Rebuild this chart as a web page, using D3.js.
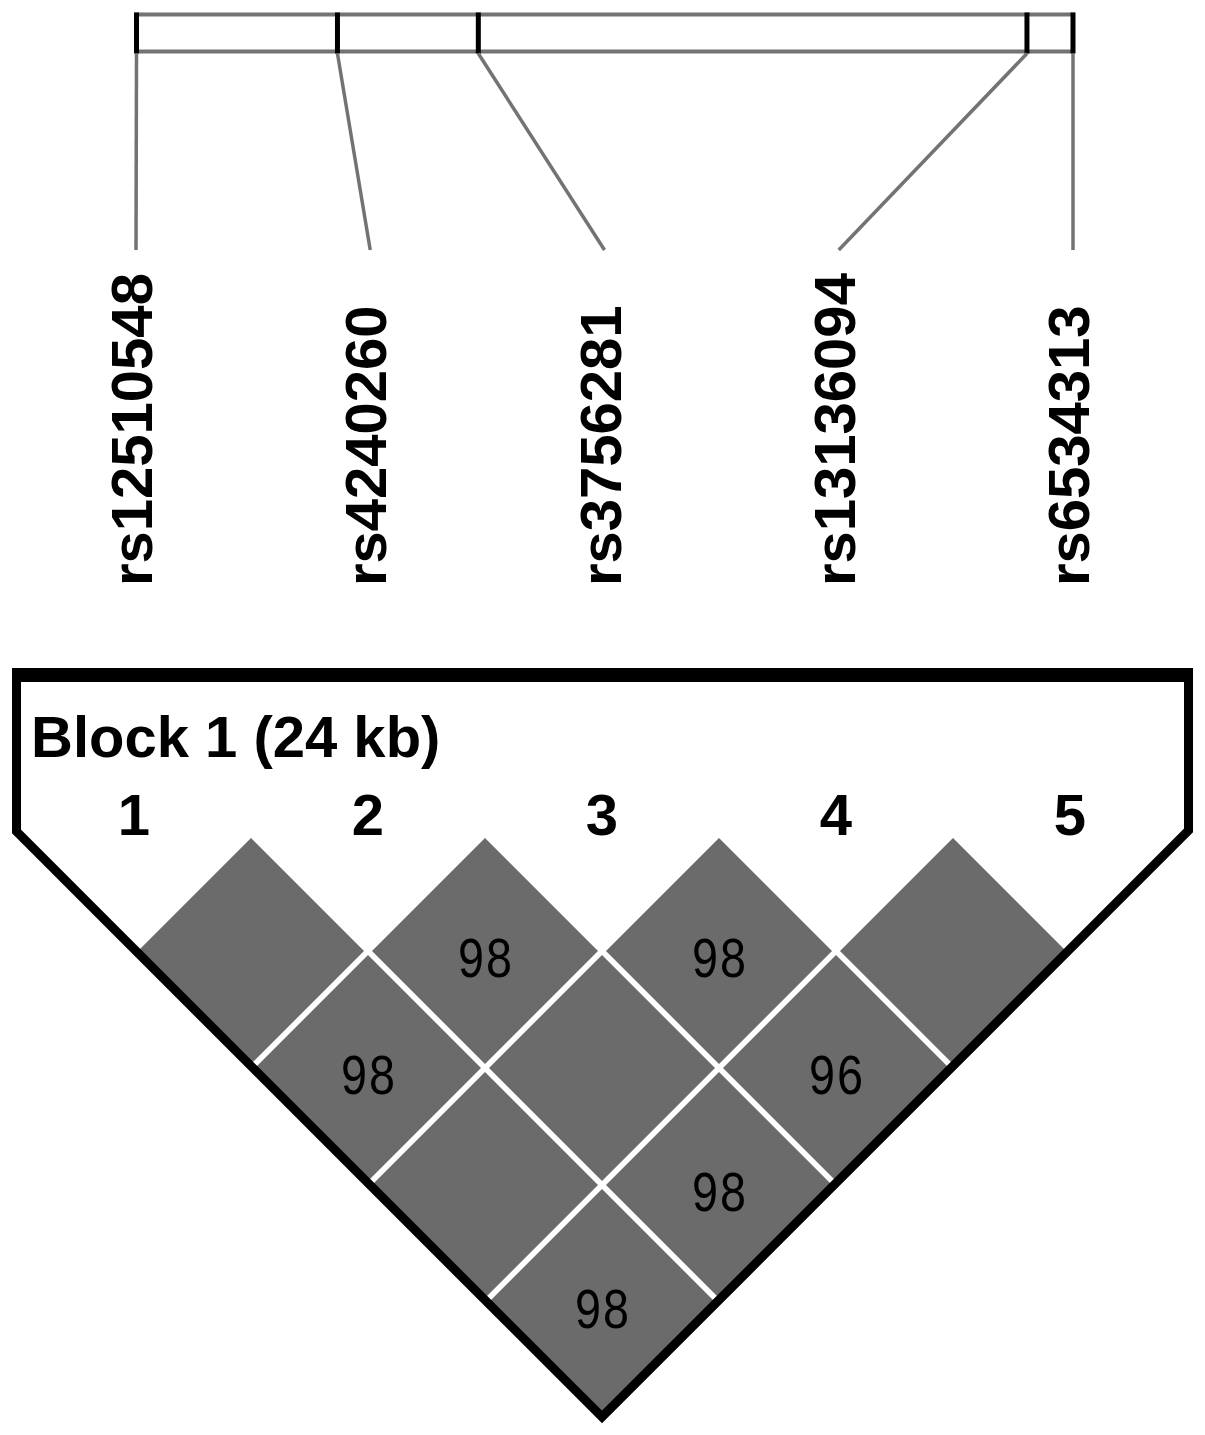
<!DOCTYPE html>
<html>
<head>
<meta charset="utf-8">
<script src="https://cdn.jsdelivr.net/npm/d3@7"></script>
<style>
  body { margin: 0; background: #fff; }
  svg { display: block; }
</style>
</head>
<body>
<div id="chart"></div>
<script>
// SNPs in the block, positions relative to first SNP (kb)
const snpNames = ['rs12510548', 'rs4240260', 'rs3756281', 'rs13136094', 'rs6534313'];
const snpPosKb = [0, 5.15, 8.76, 22.82, 24.0];
const blockLength = 24;
const blockTitle = 'Block 1 (24 kb)';

// D' x 100, one array per distance between markers (100 = not printed)
const dPrimeDist1 = [100, 98, 98, 100];
const dPrimeDist2 = [98, 100, 96];
const dPrimeDist3 = [100, 98];
const dPrimeDist4 = [98];

const width = 1205;
const height = 1435;
const grey = '#737373';
const cellFill = '#6b6b6b';

const svg = d3.select('#chart')
  .append('svg')
  .attr('width', width)
  .attr('height', height)
  .attr('viewBox', `0 0 ${width} ${height}`);

svg.append('rect').attr('width', width).attr('height', height).attr('fill', '#fff');

// ---- physical map at the top ----
const posScale = d3.scaleLinear().domain([0, blockLength]).range([136.5, 1073]);
const labelScale = d3.scalePoint().domain(d3.range(snpNames.length)).range([136, 1073]);

const mapTop = 14.5;
const mapBottom = 51.5;

svg.append('rect')
  .attr('x', posScale(0))
  .attr('y', mapTop)
  .attr('width', posScale(blockLength) - posScale(0))
  .attr('height', mapBottom - mapTop)
  .attr('fill', 'none')
  .attr('stroke', grey)
  .attr('stroke-width', 4);

svg.append('g')
  .selectAll('line')
  .data(snpPosKb)
  .join('line')
  .attr('x1', (d) => posScale(d))
  .attr('x2', (d) => posScale(d))
  .attr('y1', mapTop - 2)
  .attr('y2', mapBottom + 2)
  .attr('stroke', '#000')
  .attr('stroke-width', 5);

svg.append('g')
  .selectAll('line')
  .data(snpPosKb)
  .join('line')
  .attr('x1', (d) => posScale(d))
  .attr('y1', mapBottom + 2)
  .attr('x2', (_d, i) => labelScale(i))
  .attr('y2', 250)
  .attr('stroke', grey)
  .attr('stroke-width', 3.5);

svg.append('g')
  .selectAll('text')
  .data(snpNames)
  .join('text')
  .attr('transform', (_d, i) => `translate(${labelScale(i) + 16}, 586) rotate(-90)`)
  .attr('text-anchor', 'start')
  .style('font-family', '"Liberation Sans", Arial, sans-serif')
  .style('font-weight', 'bold')
  .style('font-size', '58px')
  .text((d) => d);

// ---- LD block ----
const blockScale = d3.scalePoint().domain(d3.range(snpNames.length)).range([134, 1070]);
const step = (blockScale(1) - blockScale(0)) / 2;
const rowY = d3.scaleLinear().domain([1, 4]).range([951, 951 + 3 * step]);

const dPrimeRows = [dPrimeDist1, dPrimeDist2, dPrimeDist3, dPrimeDist4];
const cells = [];
dPrimeRows.forEach((row, r) => {
  const dist = r + 1;
  row.forEach((value, i) => {
    cells.push({
      i: i,
      j: i + dist,
      value: value,
      cx: (blockScale(i) + blockScale(i + dist)) / 2,
      cy: rowY(dist),
    });
  });
});

const half = step - 4;

svg.append('g')
  .selectAll('path')
  .data(cells)
  .join('path')
  .attr('d', (c) => `M${c.cx},${c.cy - half}L${c.cx + half},${c.cy}L${c.cx},${c.cy + half}L${c.cx - half},${c.cy}Z`)
  .attr('fill', cellFill);

svg.append('g')
  .selectAll('text')
  .data(cells.filter((c) => c.value < 100))
  .join('text')
  .attr('x', (c) => c.cx)
  .attr('y', (c) => c.cy + 26)
  .attr('text-anchor', 'middle')
  .attr('textLength', 56)
  .attr('lengthAdjust', 'spacingAndGlyphs')
  .style('font-family', '"Liberation Mono", "DejaVu Sans Mono", monospace')
  .style('font-size', '57px')
  .attr('fill', '#000')
  .text((c) => c.value);

// outline of the block
const apexX = (blockScale(0) + blockScale(snpNames.length - 1)) / 2;
const apexY = 1417;
const leftX = 16.5;
const rightX = 1188.5;
const frameTop = 675;

svg.append('path')
  .attr('d', `M${leftX},${frameTop}L${rightX},${frameTop}L${rightX},${apexY - (rightX - apexX)}` +
    `L${apexX},${apexY}L${leftX},${apexY - (apexX - leftX)}Z`)
  .attr('fill', 'none')
  .attr('stroke', '#000')
  .attr('stroke-width', 9)
  .attr('stroke-linejoin', 'miter');

svg.append('rect')
  .attr('x', leftX - 4.5)
  .attr('y', 668)
  .attr('width', rightX - leftX + 9)
  .attr('height', 14)
  .attr('fill', '#000');

svg.append('text')
  .attr('x', 31)
  .attr('y', 757)
  .style('font-family', '"Liberation Sans", Arial, sans-serif')
  .style('font-weight', 'bold')
  .style('font-size', '58px')
  .text(blockTitle);

svg.append('g')
  .selectAll('text')
  .data(d3.range(snpNames.length))
  .join('text')
  .attr('x', (i) => blockScale(i))
  .attr('y', 835)
  .attr('text-anchor', 'middle')
  .style('font-family', '"Liberation Sans", Arial, sans-serif')
  .style('font-weight', 'bold')
  .style('font-size', '58px')
  .text((i) => i + 1);
</script>
</body>
</html>
